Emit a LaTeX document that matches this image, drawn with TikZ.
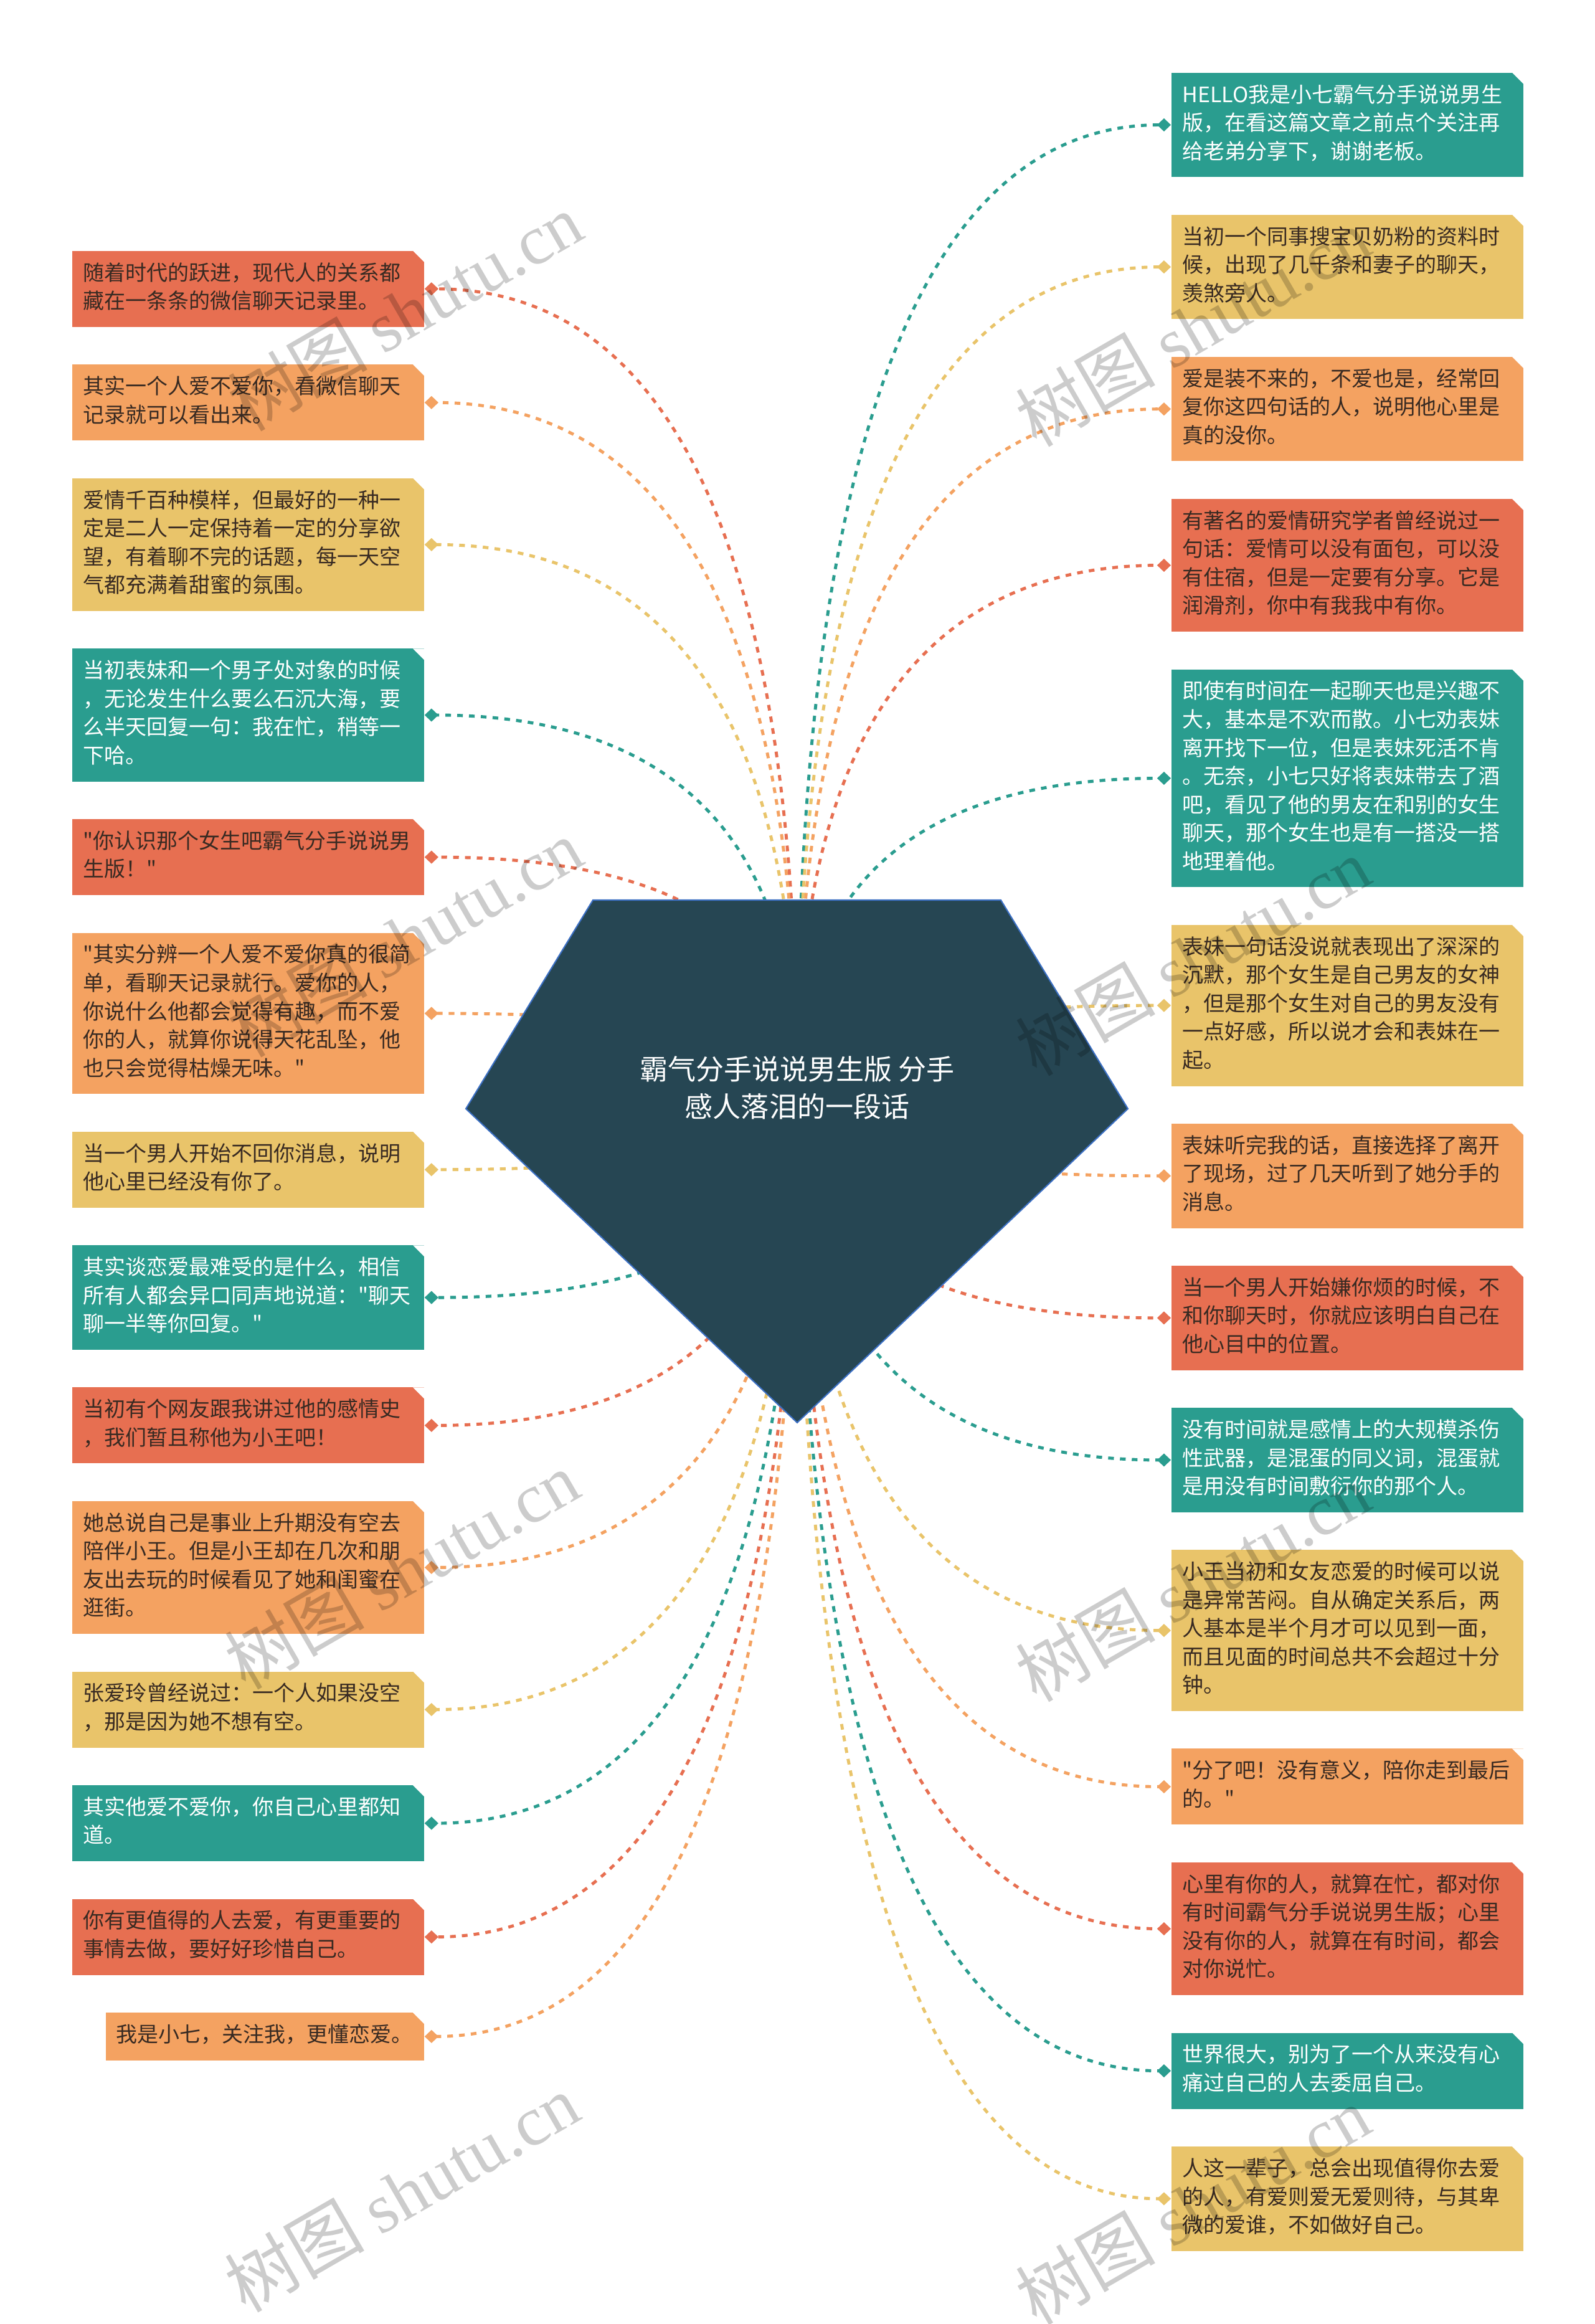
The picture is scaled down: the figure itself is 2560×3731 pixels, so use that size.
\documentclass[tikz,border=0pt]{standalone}
\usepackage{fontspec}
\usetikzlibrary{arrows.meta,calc,positioning,backgrounds}
\newfontfamily\cjkfont{Noto Sans CJK SC}
\newfontfamily\stampfont{Liberation Serif}
\definecolor{TipRed}{RGB}{231,111,81}
\definecolor{TipOrange}{RGB}{244,162,97}
\definecolor{TipYellow}{RGB}{233,196,106}
\definecolor{TipTeal}{RGB}{42,157,143}
\definecolor{CoreSlate}{RGB}{38,70,83}
\definecolor{CoreEdge}{RGB}{60,112,196}
\definecolor{TipInk}{RGB}{56,42,34}
\tikzset{
  tipbox/.style={text width=5.29cm,align=left,inner xsep=0.18cm,inner ysep=0.155cm,
    font=\cjkfont\fontsize{9.67pt}{12.95pt}\selectfont,text=TipInk,
    execute at begin node=\strut,execute at end node=\strut,
    path picture={\fill[white] ([xshift=-0.18cm]path picture bounding box.north east)
      -| ([yshift=-0.18cm]path picture bounding box.north east) -- cycle;}},
  redtip/.style={tipbox,fill=TipRed},
  orangetip/.style={tipbox,fill=TipOrange},
  yellowtip/.style={tipbox,fill=TipYellow},
  tealtip/.style={tipbox,fill=TipTeal,text=white},
  link/.style={line width=1.4pt,dash pattern=on 2.6pt off 2.8pt,
    -{Diamond[length=6.3pt,width=6pt]}},
  corelabel/.style={text=white,align=center,
    font=\cjkfont\fontsize{12.8pt}{17.07pt}\selectfont},
  stamp/.style={rotate=30,text=black,opacity=0.2,
    font=\cjkfont\fontsize{32pt}{36pt}\selectfont}
}
\begin{document}
\begin{tikzpicture}[x=0.01cm,y=-0.01cm,node distance=0.59cm]
  \useasboundingbox (0,0) rectangle (2560,3731);
  % left column
  \node[redtip,anchor=north west] (l1) at (115,402) {随着时代的跃进，现代人的关系都\\藏在一条条的微信聊天记录里。};
  \node[orangetip,below=of l1] (l2) {其实一个人爱不爱你，看微信聊天\\记录就可以看出来。};
  \node[yellowtip,below=of l2] (l3) {爱情千百种模样，但最好的一种一\\定是二人一定保持着一定的分享欲\\望，有着聊不完的话题，每一天空\\气都充满着甜蜜的氛围。};
  \node[tealtip,below=of l3] (l4) {当初表妹和一个男子处对象的时候\\，无论发生什么要么石沉大海，要\\么半天回复一句：我在忙，稍等一\\下哈。};
  \node[redtip,below=of l4] (l5) {"你认识那个女生吧霸气分手说说男\\生版！"};
  \node[orangetip,below=of l5] (l6) {"其实分辨一个人爱不爱你真的很简\\单，看聊天记录就行。爱你的人，\\你说什么他都会觉得有趣，而不爱\\你的人，就算你说得天花乱坠，他\\也只会觉得枯燥无味。"};
  \node[yellowtip,below=of l6] (l7) {当一个男人开始不回你消息，说明\\他心里已经没有你了。};
  \node[tealtip,below=of l7] (l8) {其实谈恋爱最难受的是什么，相信\\所有人都会异口同声地说道："聊天\\聊一半等你回复。"};
  \node[redtip,below=of l8] (l9) {当初有个网友跟我讲过他的感情史\\，我们暂且称他为小王吧！};
  \node[orangetip,below=of l9] (l10) {她总说自己是事业上升期没有空去\\陪伴小王。但是小王却在几次和朋\\友出去玩的时候看见了她和闺蜜在\\逛街。};
  \node[yellowtip,below=of l10] (l11) {张爱玲曾经说过：一个人如果没空\\，那是因为她不想有空。};
  \node[tealtip,below=of l11] (l12) {其实他爱不爱你，你自己心里都知\\道。};
  \node[redtip,below=of l12] (l13) {你有更值得的人去爱，有更重要的\\事情去做，要好好珍惜自己。};
  \node[orangetip,text width=4.77cm,inner xsep=0.17cm,below=of l13.south east,anchor=north east] (l14) {我是小七，关注我，更懂恋爱。};
  % right column
  \node[tealtip,anchor=north west] (r1) at (1880,116) {HELLO我是小七霸气分手说说男生\\版，在看这篇文章之前点个关注再\\给老弟分享下，谢谢老板。};
  \node[yellowtip,below=of r1] (r2) {当初一个同事搜宝贝奶粉的资料时\\候，出现了几千条和妻子的聊天，\\羡煞旁人。};
  \node[orangetip,below=of r2] (r3) {爱是装不来的，不爱也是，经常回\\复你这四句话的人，说明他心里是\\真的没你。};
  \node[redtip,below=of r3] (r4) {有著名的爱情研究学者曾经说过一\\句话：爱情可以没有面包，可以没\\有住宿，但是一定要有分享。它是\\润滑剂，你中有我我中有你。};
  \node[tealtip,below=of r4] (r5) {即使有时间在一起聊天也是兴趣不\\大，基本是不欢而散。小七劝表妹\\离开找下一位，但是表妹死活不肯\\。无奈，小七只好将表妹带去了酒\\吧，看见了他的男友在和别的女生\\聊天，那个女生也是有一搭没一搭\\地理着他。};
  \node[yellowtip,below=of r5] (r6) {表妹一句话没说就表现出了深深的\\沉默，那个女生是自己男友的女神\\，但是那个女生对自己的男友没有\\一点好感，所以说才会和表妹在一\\起。};
  \node[orangetip,below=of r6] (r7) {表妹听完我的话，直接选择了离开\\了现场，过了几天听到了她分手的\\消息。};
  \node[redtip,below=of r7] (r8) {当一个男人开始嫌你烦的时候，不\\和你聊天时，你就应该明白自己在\\他心目中的位置。};
  \node[tealtip,below=of r8] (r9) {没有时间就是感情上的大规模杀伤\\性武器，是混蛋的同义词，混蛋就\\是用没有时间敷衍你的那个人。};
  \node[yellowtip,below=of r9] (r10) {小王当初和女友恋爱的时候可以说\\是异常苦闷。自从确定关系后，两\\人基本是半个月才可以见到一面，\\而且见面的时间总共不会超过十分\\钟。};
  \node[orangetip,below=of r10] (r11) {"分了吧！没有意义，陪你走到最后\\的。"};
  \node[redtip,below=of r11] (r12) {心里有你的人，就算在忙，都对你\\有时间霸气分手说说男生版；心里\\没有你的人，就算在有时间，都会\\对你说忙。};
  \node[tealtip,below=of r12] (r13) {世界很大，别为了一个从来没有心\\痛过自己的人去委屈自己。};
  \node[yellowtip,below=of r13] (r14) {人这一辈子，总会出现值得你去爱\\的人，有爱则爱无爱则待，与其卑\\微的爱谁，不如做好自己。};
  % centre
  \filldraw[fill=CoreSlate,draw=CoreEdge,line width=0.6pt]
    (952,1445) -- (1607,1445) -- (1811,1780) -- (1280,2284) -- (748,1780) -- cycle;
  \node[corelabel] (core) at (1280,1746) {霸气分手说说男生版 分手\\感人落泪的一段话};
  % links behind everything
  \begin{scope}[on background layer]
    \fill[white] (0,0) rectangle (2560,3731);
    \foreach \n/\a/\c in {l1/east/TipRed,l2/east/TipOrange,l3/east/TipYellow,l4/east/TipTeal,
        l5/east/TipRed,l6/east/TipOrange,l7/east/TipYellow,l8/east/TipTeal,
        l9/east/TipRed,l10/east/TipOrange,l11/east/TipYellow,l12/east/TipTeal,
        l13/east/TipRed,l14/east/TipOrange,
        r1/west/TipTeal,r2/west/TipYellow,r3/west/TipOrange,r4/west/TipRed,
        r5/west/TipTeal,r6/west/TipYellow,r7/west/TipOrange,r8/west/TipRed,
        r9/west/TipTeal,r10/west/TipYellow,r11/west/TipOrange,r12/west/TipRed,
        r13/west/TipTeal,r14/west/TipYellow}
      \draw[link,\c] (core.center) .. controls ($(core.center)!2/3!(core.center|-\n.\a)$)
        and ($(\n.\a)!2/3!(core.center|-\n.\a)$) .. (\n.\a);
  \end{scope}
  % watermark
  \foreach \sx/\sy [count=\i] in {650/500,1915/525,650/1505,1915/1535,645/2520,1915/2540,645/3520,1915/3540}
    \node[stamp] (stamp\i) at (\sx,\sy) {树图 {\stampfont shutu.cn}};
\end{tikzpicture}
\end{document}
